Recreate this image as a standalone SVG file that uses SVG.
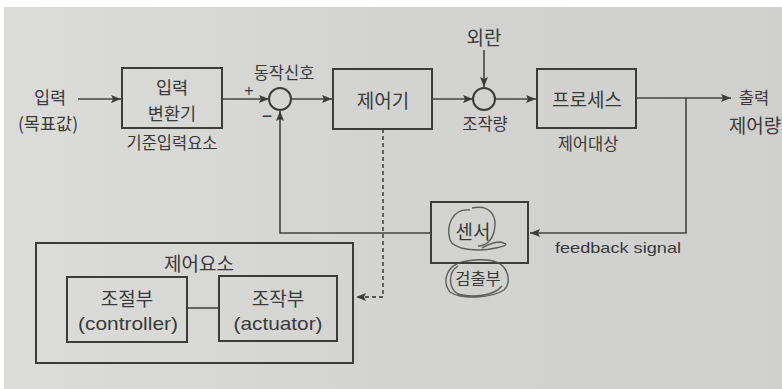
<svg xmlns="http://www.w3.org/2000/svg" width="782" height="389" viewBox="0 0 782 389">
<defs>
<marker id="arr" viewBox="0 0 10 8" refX="10" refY="4" markerWidth="10" markerHeight="8" markerUnits="userSpaceOnUse" orient="auto">
<path d="M0,0 L10,4 L0,8 L2,4 Z" fill="#3c3c3c"/>
</marker>
<linearGradient id="bg" x1="0" y1="0" x2="1" y2="0">
<stop offset="0" stop-color="#dcdcda"/>
<stop offset="0.5" stop-color="#d3d3d1"/>
<stop offset="1" stop-color="#d0d0cf"/>
</linearGradient>
</defs>
<style>
.box{fill:none;stroke:#3c3c3c;stroke-width:2}
.ln{fill:none;stroke:#444;stroke-width:1.6}
.dash{fill:none;stroke:#555;stroke-width:1.8;stroke-dasharray:4,3}
.sum{fill:none;stroke:#3c3c3c;stroke-width:2}
.k{font-family:"Noto Sans CJK KR","Noto Sans",sans-serif;fill:#3a3a3a;text-anchor:middle;dominant-baseline:central}
.big{font-size:19px}
.mid{font-size:17.5px}
.sm{font-size:16.5px}
.en{font-family:"Liberation Sans",Arial,sans-serif;fill:#3a3a3a;text-anchor:middle;dominant-baseline:central}
.pen{fill:none;stroke:#4a4a4a;stroke-width:1.4;opacity:0.85}
</style>
<rect x="0" y="0" width="782" height="389" fill="#ffffff"/>
<rect x="4" y="7" width="778" height="382" fill="url(#bg)"/>

<g id="connectors">
<line class="ln" x1="78" y1="99" x2="121" y2="99" marker-end="url(#arr)"/>
<line class="ln" x1="222" y1="99" x2="269" y2="99" marker-end="url(#arr)"/>
<line class="ln" x1="291" y1="99" x2="332" y2="99" marker-end="url(#arr)"/>
<line class="ln" x1="432" y1="99" x2="473" y2="99" marker-end="url(#arr)"/>
<line class="ln" x1="484" y1="50" x2="484" y2="87" marker-end="url(#arr)"/>
<line class="ln" x1="495" y1="99" x2="536" y2="99" marker-end="url(#arr)"/>
<line class="ln" x1="636" y1="98" x2="731" y2="98" marker-end="url(#arr)"/>
<polyline class="ln" points="686,98 686,233 530,233" marker-end="url(#arr)"/>
<polyline class="ln" points="431,233 280,233 280,111" marker-end="url(#arr)"/>
<polyline class="dash" points="383,129 383,297 356,297" marker-end="url(#arr)"/>
<line class="ln" x1="187" y1="308" x2="219" y2="308"/>
</g>

<g id="input-label">
<text class="k mid" x="50" y="96">입력</text>
<text class="k mid" x="48" y="122">(목표값)</text>
</g>

<g id="input-converter">
<rect class="box" x="122" y="68" width="100" height="60"/>
<text class="k mid" x="172" y="86">입력</text>
<text class="k mid" x="172" y="112">변환기</text>
<text class="k sm" x="172" y="142">기준입력요소</text>
</g>

<g id="summing1">
<circle class="sum" cx="280" cy="99" r="11"/>
<text class="k sm" x="284" y="72">동작신호</text>
<text class="en" x="249" y="90" font-size="16">+</text>
<text class="en" x="267" y="116" font-size="18">−</text>
</g>

<g id="controller">
<rect class="box" x="333" y="69" width="99" height="60"/>
<text class="k big" x="383" y="99">제어기</text>
</g>

<g id="disturbance">
<text class="k big" x="484" y="36">외란</text>
</g>

<g id="summing2">
<circle class="sum" cx="484" cy="99" r="11"/>
<text class="k sm" x="485" y="123">조작량</text>
</g>

<g id="process">
<rect class="box" x="537" y="69" width="99" height="59"/>
<text class="k big" x="587" y="98">프로세스</text>
<text class="k sm" x="588" y="143">제어대상</text>
</g>

<g id="output-label">
<text class="k sm" x="754" y="97">출력</text>
<text class="k big" x="755" y="124">제어량</text>
</g>

<g id="sensor">
<rect class="box" x="431" y="202" width="97" height="61"/>
<text class="k big" x="473" y="230">센서</text>
<text class="k sm" x="478" y="278">검출부</text>
<text class="en" x="618" y="247" font-size="15" textLength="126" lengthAdjust="spacingAndGlyphs">feedback signal</text>
<path class="pen" d="M470,210 C452,208 446,226 450,240 C454,250 478,252 496,248 C506,246 510,244 500,242 C492,242 486,246 482,248 M472,208 C490,204 498,216 494,232 C492,240 486,246 478,246"/>
<path class="pen" d="M462,262 C446,266 442,282 450,292 C462,300 492,298 504,290 C512,282 508,266 496,262 C486,258 470,260 462,262 M458,266 C448,272 448,288 458,294 C472,298 494,296 502,286"/>
</g>

<g id="control-element">
<rect class="box" x="36" y="243" width="317" height="120"/>
<text class="k big" x="199" y="262">제어요소</text>
</g>

<g id="regulator">
<rect class="box" x="67" y="277" width="120" height="65"/>
<text class="k big" x="127" y="297">조절부</text>
<text class="en" x="128" y="323" font-size="19" textLength="100" lengthAdjust="spacingAndGlyphs">(controller)</text>
</g>

<g id="actuator">
<rect class="box" x="219" y="276" width="118" height="65"/>
<text class="k big" x="278" y="297">조작부</text>
<text class="en" x="278" y="323" font-size="19" textLength="89" lengthAdjust="spacingAndGlyphs">(actuator)</text>
</g>
</svg>
